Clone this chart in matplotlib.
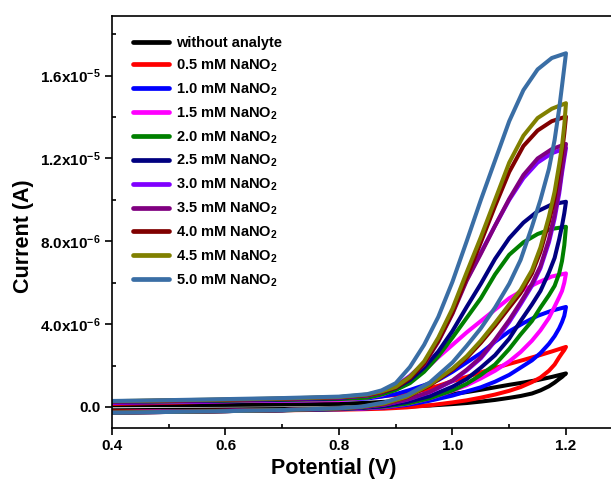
import matplotlib
matplotlib.use('Agg')
import matplotlib.pyplot as plt
import numpy as np

# 字体：Arial 风格的粗体
plt.rcParams['font.family'] = ['Liberation Sans', 'DejaVu Sans']
plt.rcParams['font.weight'] = 'bold'
plt.rcParams['mathtext.fontset'] = 'custom'
plt.rcParams['mathtext.rm'] = 'Liberation Sans:bold'
plt.rcParams['mathtext.it'] = 'Liberation Sans:bold'
plt.rcParams['mathtext.bf'] = 'Liberation Sans:bold'

# potential grids (V): upper branch 0.4 -> 1.2, lower branch 1.2 -> 0.4
fwd_v = [0.40, 0.50, 0.60, 0.70, 0.80, 0.85, 0.875, 0.90, 0.925, 0.95,
         0.975, 1.00, 1.025, 1.05, 1.075, 1.10, 1.125, 1.15, 1.175, 1.20]
rev_v = [1.20, 1.197, 1.193, 1.188, 1.18, 1.17, 1.155, 1.14, 1.12, 1.10,
         1.075, 1.05, 1.025, 1.00, 0.96, 0.92, 0.88, 0.84, 0.80, 0.70,
         0.60, 0.50, 0.40]

# currents in uA
blank_fwd = [0.08, 0.09, 0.10, 0.12, 0.15, 0.20, 0.24, 0.28, 0.35, 0.42,
             0.52, 0.62, 0.72, 0.83, 0.95, 1.07, 1.18, 1.30, 1.45, 1.62]
blank_rev = [1.62, 1.55, 1.45, 1.35, 1.18, 1.00, 0.80, 0.65, 0.53, 0.44,
             0.34, 0.26, 0.19, 0.14, 0.07, 0.02, -0.02, -0.05, -0.07, -0.10,
             -0.12, -0.14, -0.16]
c05_fwd = [0.15, 0.20, 0.27, 0.36, 0.43, 0.48, 0.52, 0.58, 0.68, 0.82,
           1.02, 1.25, 1.45, 1.67, 1.88, 2.08, 2.27, 2.47, 2.68, 2.90]
c05_rev = [2.90, 2.75, 2.60, 2.40, 2.05, 1.75, 1.42, 1.20, 0.96, 0.78,
           0.60, 0.45, 0.32, 0.22, 0.08, -0.02, -0.08, -0.11, -0.13, -0.16,
           -0.18, -0.20, -0.22]
c10_fwd = [0.20, 0.23, 0.27, 0.31, 0.35, 0.41, 0.50, 0.62, 0.82, 1.05,
           1.30, 1.70, 2.15, 2.60, 3.15, 3.65, 4.05, 4.40, 4.65, 4.83]
c10_rev = [4.83, 4.40, 4.10, 3.80, 3.42, 3.05, 2.60, 2.25, 1.90, 1.55,
           1.22, 0.95, 0.75, 0.55, 0.30, 0.10, -0.02, -0.08, -0.11, -0.15,
           -0.19, -0.22, -0.25]
c15_fwd = [0.22, 0.25, 0.28, 0.31, 0.33, 0.45, 0.58, 0.85, 1.20, 1.75,
           2.40, 3.00, 3.60, 4.15, 4.70, 5.25, 5.65, 6.00, 6.30, 6.45]
c15_rev = [6.45, 6.00, 5.60, 5.30, 4.85, 4.30, 3.70, 3.20, 2.65, 2.20,
           1.75, 1.38, 1.05, 0.78, 0.42, 0.15, 0.00, -0.07, -0.10, -0.15,
           -0.19, -0.22, -0.25]
c20_fwd = [0.24, 0.27, 0.30, 0.34, 0.38, 0.45, 0.60, 0.82, 1.15, 1.70,
           2.45, 3.35, 4.30, 5.25, 6.40, 7.35, 7.95, 8.35, 8.60, 8.70]
c20_rev = [8.70, 7.80, 7.05, 6.45, 5.85, 5.40, 4.80, 4.15, 3.50, 2.80,
           2.05, 1.55, 1.12, 0.80, 0.42, 0.16, 0.02, -0.05, -0.10, -0.16,
           -0.20, -0.23, -0.26]
c25_fwd = [0.25, 0.28, 0.32, 0.36, 0.42, 0.58, 0.70, 0.92, 1.30, 1.90,
           2.68, 3.67, 4.83, 5.95, 7.15, 8.15, 8.90, 9.45, 9.78, 9.91]
c25_rev = [9.91, 9.35, 8.75, 8.10, 7.20, 6.50, 5.60, 4.95, 4.15, 3.30,
           2.50, 1.90, 1.35, 0.98, 0.52, 0.24, 0.05, -0.04, -0.09, -0.16,
           -0.20, -0.24, -0.27]
c30_fwd = [0.26, 0.30, 0.34, 0.39, 0.45, 0.56, 0.72, 1.00, 1.50, 2.12,
           3.25, 4.62, 6.15, 7.45, 8.75, 10.00, 11.05, 11.80, 12.25, 12.50]
c30_rev = [12.50, 12.00, 11.30, 10.30, 9.10, 7.95, 6.70, 5.85, 4.95, 4.10,
           3.18, 2.35, 1.76, 1.25, 0.71, 0.35, 0.11, -0.01, -0.08, -0.15,
           -0.20, -0.24, -0.27]
c35_fwd = [0.26, 0.30, 0.34, 0.39, 0.45, 0.55, 0.70, 0.98, 1.45, 2.05,
           3.15, 4.50, 6.10, 7.40, 8.75, 10.05, 11.20, 12.00, 12.45, 12.70]
c35_rev = [12.70, 12.20, 11.50, 10.50, 9.30, 8.10, 6.80, 5.95, 5.05, 4.20,
           3.25, 2.40, 1.80, 1.28, 0.73, 0.36, 0.12, -0.01, -0.08, -0.15,
           -0.20, -0.24, -0.27]
c40_fwd = [0.27, 0.31, 0.35, 0.40, 0.47, 0.58, 0.72, 0.93, 1.38, 2.10,
           3.20, 4.55, 6.25, 7.95, 9.70, 11.35, 12.60, 13.35, 13.80, 14.02]
c40_rev = [14.02, 13.20, 12.30, 11.40, 10.10, 8.95, 7.50, 6.45, 5.50, 4.80,
           3.92, 3.10, 2.37, 1.80, 1.04, 0.48, 0.16, 0.01, -0.07, -0.15,
           -0.20, -0.24, -0.27]
c45_fwd = [0.28, 0.32, 0.36, 0.41, 0.48, 0.60, 0.75, 0.97, 1.45, 2.20,
           3.35, 4.75, 6.50, 8.20, 10.00, 11.80, 13.10, 13.95, 14.40, 14.67]
c45_rev = [14.67, 13.60, 12.60, 11.70, 10.40, 9.20, 7.70, 6.60, 5.65, 4.95,
           4.05, 3.20, 2.45, 1.85, 1.08, 0.50, 0.17, 0.01, -0.07, -0.15,
           -0.20, -0.24, -0.27]
c50_fwd = [0.29, 0.33, 0.38, 0.43, 0.50, 0.62, 0.80, 1.15, 1.93, 3.00,
           4.35, 6.05, 8.00, 10.00, 11.90, 13.80, 15.30, 16.30, 16.85, 17.08]
c50_rev = [17.08, 16.40, 15.50, 14.40, 12.90, 11.50, 10.00, 8.70, 7.10, 5.95,
           4.80, 3.80, 2.95, 2.15, 1.18, 0.57, 0.22, 0.02, -0.06, -0.15,
           -0.20, -0.24, -0.28]

labels = ['without analyte', '0.5 mM NaNO$_2$', '1.0 mM NaNO$_2$',
          '1.5 mM NaNO$_2$', '2.0 mM NaNO$_2$', '2.5 mM NaNO$_2$',
          '3.0 mM NaNO$_2$', '3.5 mM NaNO$_2$', '4.0 mM NaNO$_2$',
          '4.5 mM NaNO$_2$', '5.0 mM NaNO$_2$']
colors = ['#000000', '#FF0000', '#0000FF', '#FF00FF', '#008000', '#000080',
          '#8000FF', '#800080', '#800000', '#808000', '#3A6EA5']
fwd_sets = [blank_fwd, c05_fwd, c10_fwd, c15_fwd, c20_fwd, c25_fwd,
            c30_fwd, c35_fwd, c40_fwd, c45_fwd, c50_fwd]
rev_sets = [blank_rev, c05_rev, c10_rev, c15_rev, c20_rev, c25_rev,
            c30_rev, c35_rev, c40_rev, c45_rev, c50_rev]

x_ticks = [0.4, 0.6, 0.8, 1.0, 1.2]
x_ticklabels = ['0.4', '0.6', '0.8', '1.0', '1.2']
y_ticks = [0.0, 4.0e-6, 8.0e-6, 1.2e-5, 1.6e-5]
y_ticklabels = ['0.0', '4.0x10$^{-6}$', '8.0x10$^{-6}$',
                '1.2x10$^{-5}$', '1.6x10$^{-5}$']

fig = plt.figure(figsize=(6.11, 4.86), dpi=100)
# 坐标轴右侧超出画布（原图被裁切）
ax = fig.add_axes([0.1833, 0.12, 0.8359, 0.848])

for fwd, rev, col, lab in zip(fwd_sets, rev_sets, colors, labels):
    v = np.array(fwd_v + rev_v[1:])
    cur = np.array(fwd + rev[1:]) * 1e-6
    ax.plot(v, cur, color=col, lw=2.9, label=lab,
            solid_joinstyle='round', solid_capstyle='round')

ax.set_xlim(0.4, 1.3)
ax.set_ylim(-1.0e-6, 1.89e-5)
ax.set_xticks(x_ticks)
ax.set_xticklabels(x_ticklabels)
ax.set_xticks([0.5, 0.7, 0.9, 1.1], minor=True)
ax.set_yticks(y_ticks)
ax.set_yticklabels(y_ticklabels)
ax.set_yticks([2e-6, 6e-6, 1e-5, 1.4e-5, 1.8e-5], minor=True)

for sp in ax.spines.values():
    sp.set_linewidth(1.2)
ax.tick_params(which='major', direction='out', length=5, width=1.2,
               labelsize=11, pad=3)
ax.tick_params(which='minor', direction='in', length=3, width=1.2)

ax.set_xlabel('Potential (V)', fontsize=15.5, fontweight='bold')
ax.xaxis.set_label_coords(0.434, -0.1)
ax.xaxis.label.set_va('center')
ax.set_ylabel('Current (A)', fontsize=15.5, fontweight='bold')
ax.yaxis.set_label_coords(-0.174, 0.4635)
ax.yaxis.label.set_va('center')

leg = ax.legend(loc='upper left', bbox_to_anchor=(0.041, 0.95),
                frameon=False, fontsize=10.5, handlelength=2.5,
                handletextpad=0.45, labelspacing=0.51, borderpad=0,
                borderaxespad=0)
for line in leg.get_lines():
    line.set_linewidth(3.4)

fig.savefig('out.png', dpi=100)
